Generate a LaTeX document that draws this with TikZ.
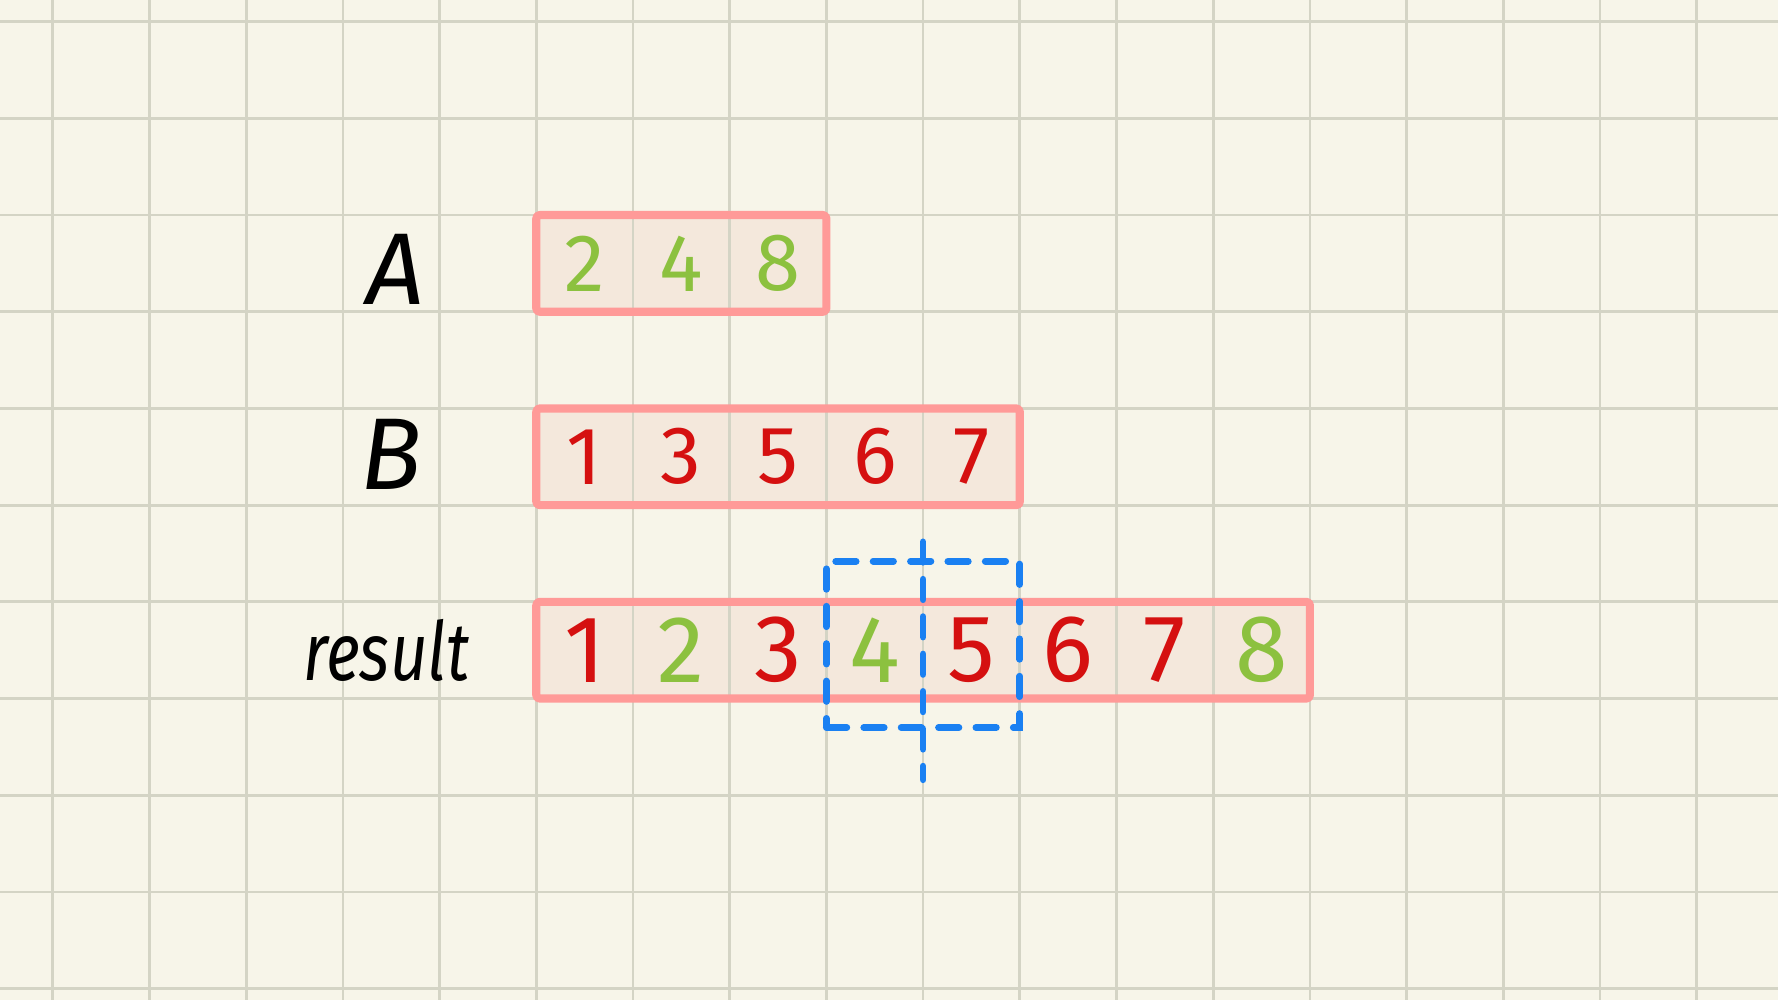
\documentclass[tikz,border=0pt]{standalone}
\usepackage{fontspec}
\setmainfont{Fira Sans}
\usetikzlibrary{positioning}
\definecolor{paper}{HTML}{F7F5E9}\definecolor{gridc}{HTML}{D4D4C5}\definecolor{boxc}{HTML}{FF9A98}
\definecolor{cellc}{HTML}{F4E4D8}\definecolor{grn}{HTML}{8CC13F}\definecolor{rd}{HTML}{D51010}\definecolor{blu}{HTML}{1A80F2}
\tikzset{arr/.style={fill=cellc,fill opacity=.75,inner sep=0pt,outer sep=0pt,minimum height=1cm},
rim/.style={boxc,line width=2.4pt,rounded corners=1pt,line join=round},
num/.style={font=\fontsize{24}{24}\selectfont},big/.style={font=\fontsize{28}{28}\selectfont},ev/.style={text=grn},od/.style={text=rd},
lbl/.style={font=\fontsize{30}{30}\selectfont\itshape},win/.style={draw=blu,line width=2pt,dash pattern=on 6pt off 5pt,line cap=round}}
\begin{document}
\begin{tikzpicture}
\fill[paper] (-.546,-.117) rectangle (17.841,10.224);\useasboundingbox (-.546,-.117) rectangle (17.841,10.224);
\node[arr,minimum width=3cm] (A) at (6.5,7.5){};\node[arr,minimum width=5cm] (B) at (7.5,5.5){};\node[arr,minimum width=8cm] (R) at (9,3.5){};
\foreach \x in {0,...,17}\draw[gridc,line width=.8pt] (\x,-.117)--(\x,10.224);
\foreach \y in {0,...,10}\draw[gridc,line width=.8pt] (-.546,\y)--(17.841,\y);
\draw[rim] (A.south west) rectangle (A.north east) (B.south west) rectangle (B.north east) (R.south west) rectangle (R.north east);
\node[lbl] (lA) at (3.54,7.44){A};\node[lbl] (lB) at (3.5,5.53){B};\node[lbl,font=\fontsize{24}{24}\selectfont\itshape,xscale=.8,transform shape] (lR) at (3.45,3.5){result};
\node[num,ev] (a1) at (5.5,7.5){2};\node[num,ev] (a2) at (6.5,7.5){4};\node[num,ev] (a3) at (7.5,7.5){8};
\node[num,od] (b1) at (5.5,5.5){1};\node[num,od] (b2) at (6.5,5.5){3};\node[num,od] (b3) at (7.5,5.5){5};\node[num,od] (b4) at (8.5,5.5){6};\node[num,od] (b5) at (9.5,5.5){7};
\node[big,od] (r1) at (5.5,3.5){1};\node[big,ev] (r2) at (6.5,3.5){2};\node[big,od] (r3) at (7.5,3.5){3};\node[big,ev] (r4) at (8.5,3.5){4};
\node[big,od] (r5) at (9.5,3.5){5};\node[big,od] (r6) at (10.5,3.5){6};\node[big,od] (r7) at (11.5,3.5){7};\node[big,ev] (r8) at (12.5,3.5){8};
\node[win,minimum width=2cm,minimum height=1.72cm,inner sep=0pt] (mid) at (9,3.56){};
\coordinate (cut1) at (9,4.62);\coordinate (cut2) at (9,2.16);\draw[win] (cut1)--(cut2);
\end{tikzpicture}
\end{document}
